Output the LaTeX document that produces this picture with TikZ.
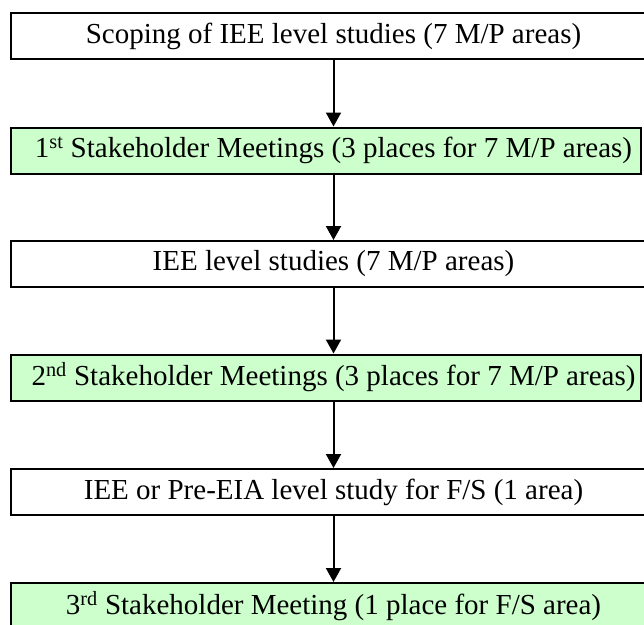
\documentclass[tikz,border=0pt]{standalone}
\usepackage{fontspec}
\setmainfont{Liberation Serif}
\usetikzlibrary{arrows.meta}
\definecolor{boxgreen}{RGB}{204,255,204}
\tikzset{
  stagebox/.style={draw=black, line width=2pt, minimum height=46pt, inner sep=0pt,
    font=\fontsize{29}{34}\selectfont},
  whitebox/.style={stagebox, fill=white, minimum width=645pt},
  greenbox/.style={stagebox, fill=boxgreen, minimum width=630pt},
  flowarrow/.style={line width=2pt, -{Triangle[width=15pt,length=14pt]}}
}
\begin{document}
\begin{tikzpicture}[x=1pt,y=-1pt]
\useasboundingbox (0,0) rectangle (644,624);
\clip (0,0) rectangle (644,624);
\node[whitebox] (b1) at (333.5,36) {Scoping of IEE level studies (7 M/P areas)};
\node[greenbox] (b2) at (326,150.5) {\hspace*{15pt}1\textsuperscript{st} Stakeholder Meetings (3 places for 7 M/P areas)};
\node[whitebox] (b3) at (333.5,264) {IEE level studies (7 M/P areas)};
\node[greenbox] (b4) at (326,377.5) {\hspace*{15pt}2\textsuperscript{nd} Stakeholder Meetings (3 places for 7 M/P areas)};
\node[whitebox] (b5) at (333.5,492) {IEE or Pre-EIA level study for F/S (1 area)};
\node[stagebox, fill=boxgreen, minimum width=645pt] (b6) at (333.5,606) {3\textsuperscript{rd} Stakeholder Meeting (1 place for F/S area)};
\draw[flowarrow] (b1.south) -- (b2.north -| b1.south);
\draw[flowarrow] (b2.south -| b1.south) -- (b3.north);
\draw[flowarrow] (b3.south) -- (b4.north -| b3.south);
\draw[flowarrow] (b4.south -| b3.south) -- (b5.north);
\draw[flowarrow] (b5.south) -- (b6.north);
\end{tikzpicture}
\end{document}
